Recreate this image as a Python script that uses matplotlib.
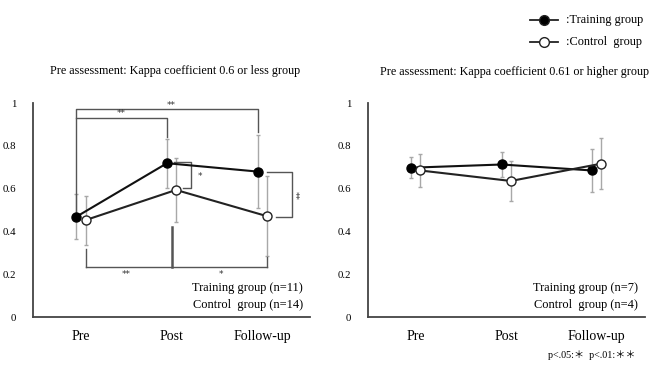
import matplotlib

matplotlib.use("Agg")

import matplotlib.pyplot as plt
import numpy as np
from matplotlib.lines import Line2D

plt.rcParams["font.family"] = ["Liberation Serif", "DejaVu Serif"]

categories = ["Pre", "Post", "Follow-up"]

# left panel: kappa <= 0.6
low_train = [0.469, 0.719, 0.680]
low_train_err = [0.105, 0.115, 0.170]
low_ctrl = [0.453, 0.594, 0.472]
low_ctrl_err = [0.115, 0.150, 0.185]

# right panel: kappa >= 0.61
high_train = [0.698, 0.713, 0.685]
high_train_err = [0.050, 0.060, 0.100]
high_ctrl = [0.685, 0.636, 0.717]
high_ctrl_err = [0.075, 0.095, 0.120]

titles = [
    "Pre assessment: Kappa coefficient 0.6 or less group",
    "Pre assessment: Kappa coefficient 0.61 or higher group",
]
n_labels = [
    ("Training group (n=11)", "Control  group (n=14)"),
    ("Training group (n=7)", "Control  group (n=4)"),
]

OFF = 0.05
ERR_C = "#a8a8a8"
BR_C = "#555555"
SP_C = "#444444"
STAR = dict(ha="center", va="center", family="DejaVu Sans", color="#333333")

fig = plt.figure(figsize=(6.51, 3.65), dpi=100)
ax1 = fig.add_axes([0.0507, 0.1315, 0.4255, 0.586])
ax2 = fig.add_axes([0.565, 0.1315, 0.4255, 0.586])

x = np.arange(len(categories))


def draw_panel(ax, tr, tr_e, ct, ct_e, labels):
    ax.errorbar(x - OFF, tr, yerr=tr_e, fmt="none", ecolor=ERR_C, elinewidth=1.0, capsize=1.5, zorder=1)
    ax.errorbar(x + OFF, ct, yerr=ct_e, fmt="none", ecolor=ERR_C, elinewidth=1.0, capsize=1.5, zorder=1)
    ax.plot(x - OFF, tr, "-o", color="#111111", lw=1.5, ms=6.5, mfc="black", mec="black", zorder=3)
    ax.plot(x + OFF, ct, "-o", color="#222222", lw=1.5, ms=6.5, mfc="white", mec="#222222", zorder=4)
    ax.set_xlim(-0.53, 2.53)
    ax.set_ylim(0, 1)
    ax.set_xticks(x)
    ax.set_xticklabels(categories, fontsize=10)
    ax.set_yticks([0, 0.2, 0.4, 0.6, 0.8, 1.0])
    ax.set_yticklabels(["0", "0.2", "0.4", "0.6", "0.8", "1"], fontsize=7.8)
    ax.tick_params(length=0, pad=12)
    ax.tick_params(axis="x", pad=9)
    for s in ("top", "right"):
        ax.spines[s].set_visible(False)
    for s in ("left", "bottom"):
        ax.spines[s].set_color(SP_C)
        ax.spines[s].set_linewidth(1.3)
    ax.text(2.45, 0.137, labels[0], ha="right", va="center", fontsize=8.9)
    ax.text(2.45, 0.057, labels[1], ha="right", va="center", fontsize=8.9)


draw_panel(ax1, low_train, low_train_err, low_ctrl, low_ctrl_err, n_labels[0])
draw_panel(ax2, high_train, high_train_err, high_ctrl, high_ctrl_err, n_labels[1])

# significance brackets, left panel
kw = dict(color=BR_C, lw=1.0, zorder=2)
xt = x - OFF
xc = x + OFF
# Pre -> Follow-up (training)
ax1.plot([xt[0], xt[0], xt[2], xt[2]], [0.47, 0.972, 0.972, 0.865], **kw)
ax1.text((xt[0] + xt[2]) / 2 + 0.05, 0.99, "**", fontsize=6.5, **STAR)
# Pre -> Post (training)
ax1.plot([xt[0], xt[1], xt[1]], [0.93, 0.93, 0.84], **kw)
ax1.text((xt[0] + xt[1]) / 2 + 0.0, 0.95, "**", fontsize=6.5, **STAR)
# Post: training vs control
bx = x[1] + 0.22
ax1.plot([xt[1] + 0.08, bx, bx, xc[1] + 0.08], [low_train[1] + 0.008, low_train[1] + 0.008, 0.603, 0.603], **kw)
ax1.text(bx + 0.09, 0.655, "*", fontsize=6.5, **STAR)
# Follow-up: training vs control
bx = x[2] + 0.33
ax1.plot([xt[2] + 0.1, bx, bx, xc[2] + 0.1], [low_train[2], low_train[2], low_ctrl[2] - 0.005, low_ctrl[2] - 0.005], **kw)
ax1.text(bx + 0.1, 0.575, "**", fontsize=6.5, rotation=90, **STAR)
# bottom: Pre -> Post -> Follow-up (control)
yb = 0.234
ax1.plot([xc[0], xc[0]], [0.32, yb], **kw)
ax1.plot([xc[0], xc[2]], [yb, yb], **kw)
ax1.plot([x[1], x[1]], [yb, 0.42], color=BR_C, lw=1.8, zorder=2)
ax1.plot([xc[2], xc[2]], [yb, 0.28], **kw)
ax1.text((xc[0] + x[1]) / 2 - 0.02, 0.2, "**", fontsize=6.5, **STAR)
ax1.text((x[1] + xc[2]) / 2 + 0.02, 0.2, "*", fontsize=6.5, **STAR)

# titles
fig.text(175 / 651, 1 - 71 / 365, titles[0], ha="center", va="center", fontsize=8.7)
fig.text(380 / 651, 1 - 72 / 365, titles[1], ha="left", va="center", fontsize=8.7)

# legend top right
for yy, fc, lab in [(20, "black", ":Training group"), (42, "white", ":Control  group")]:
    yf = 1 - yy / 365
    fig.add_artist(Line2D([530 / 651, 558 / 651], [yf, yf], color="#222222", lw=1.3))
    fig.add_artist(Line2D([544 / 651], [yf], marker="o", ms=7, mfc=fc, mec="#222222", color="none"))
    fig.text(566 / 651, yf, lab, ha="left", va="center", fontsize=8.8)

fig.text(548 / 651, 1 - 355 / 365, "p<.05:＊  p<.01:＊＊", ha="left", va="center", fontsize=7.3,
         family=["Liberation Serif", "Noto Sans CJK JP", "DejaVu Sans"])

fig.savefig("out.png", dpi=100)
